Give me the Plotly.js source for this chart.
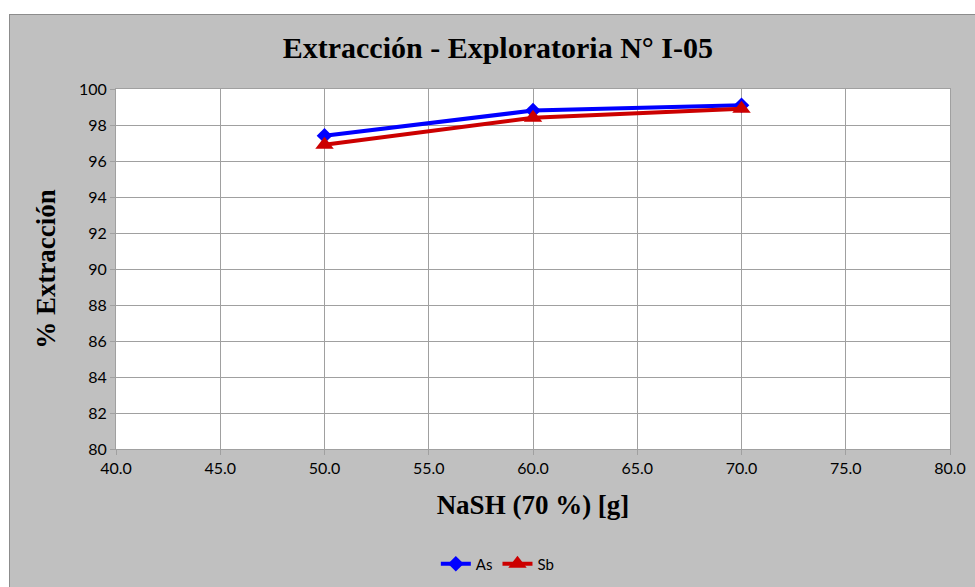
<!DOCTYPE html>
<html>
<head>
<meta charset="utf-8">
<script src="https://cdn.plot.ly/plotly-3.0.1.min.js"></script>
<style>
  html, body { margin: 0; padding: 0; background: #ffffff; width: 975px; height: 587px; overflow: hidden; }
  #chart { position: absolute; left: 9px; top: 14px; width: 966px; height: 573px;
           box-sizing: border-box; border-left: 1px solid #8c8c8c; border-top: 1px solid #8c8c8c; }
</style>
</head>
<body>
<div id="chart"></div>
<script>
// NaSH dose (g) and extraction results
const nashGrams = [50, 60, 70];
const extractionAs = [97.4, 98.8, 99.1];
const extractionSb = [96.9, 98.4, 98.9];
const xTickValues = [40, 45, 50, 55, 60, 65, 70, 75, 80];
const yTickValues = [80, 82, 84, 86, 88, 90, 92, 94, 96, 98, 100];

const tickFont = { family: 'Lato, "Open Sans", sans-serif', size: 16, color: '#000000' };
const serifBold = { family: '"Liberation Serif", "Times New Roman", serif', size: 27, color: '#000000', weight: 'bold' };

const traces = [
  {
    x: nashGrams, y: extractionAs, name: 'As', type: 'scatter', mode: 'lines+markers',
    line: { color: '#0000FF', width: 4 },
    marker: { symbol: 'diamond', size: 12, color: '#0000FF' }
  },
  {
    x: nashGrams, y: extractionSb, name: 'Sb', type: 'scatter', mode: 'lines+markers',
    line: { color: '#CC0000', width: 4 },
    marker: { symbol: 'triangle-up', size: 16, color: '#CC0000' }
  }
];

const layout = {
  width: 966, height: 573,
  paper_bgcolor: '#C0C0C0',
  plot_bgcolor: '#FFFFFF',
  margin: { l: 106, r: 26, t: 74, b: 139 },
  showlegend: true,
  title: {
    text: 'Extracción - Exploratoria N° I-05',
    font: { family: '"Liberation Serif", "Times New Roman", serif', size: 30, color: '#000000', weight: 'bold' },
    xref: 'container', yref: 'container', x: 0.505, y: 0.944, xanchor: 'center', yanchor: 'middle'
  },
  xaxis: {
    range: [40, 80], tickvals: xTickValues, ticktext: xTickValues.map(v => v.toFixed(1)),
    showgrid: true, gridcolor: '#A0A0A0', gridwidth: 1,
    showline: true, linecolor: '#A0A0A0', linewidth: 1, mirror: true,
    ticks: 'outside', ticklen: 5, tickcolor: '#A0A0A0',
    tickfont: tickFont, zeroline: false,
    title: { text: 'NaSH (70 %) [g]', font: serifBold, standoff: 18 }
  },
  yaxis: {
    range: [80, 100], tickvals: yTickValues,
    showgrid: true, gridcolor: '#A0A0A0', gridwidth: 1,
    showline: true, linecolor: '#A0A0A0', linewidth: 1, mirror: true,
    ticks: 'outside', ticklen: 5, tickcolor: '#A0A0A0',
    tickfont: tickFont, zeroline: false,
    title: { text: '% Extracción', font: serifBold, standoff: 15 }
  },
  legend: {
    orientation: 'h', xref: 'container', yref: 'container',
    x: 0.505, y: 0.042, xanchor: 'center', yanchor: 'middle',
    bgcolor: 'rgba(0,0,0,0)', font: { family: 'Lato, "Open Sans", sans-serif', size: 15, color: '#000000' },
    itemwidth: 30, tracegroupgap: 0
  }
};

Plotly.newPlot('chart', traces, layout, { displayModeBar: false, staticPlot: true });
</script>
</body>
</html>
